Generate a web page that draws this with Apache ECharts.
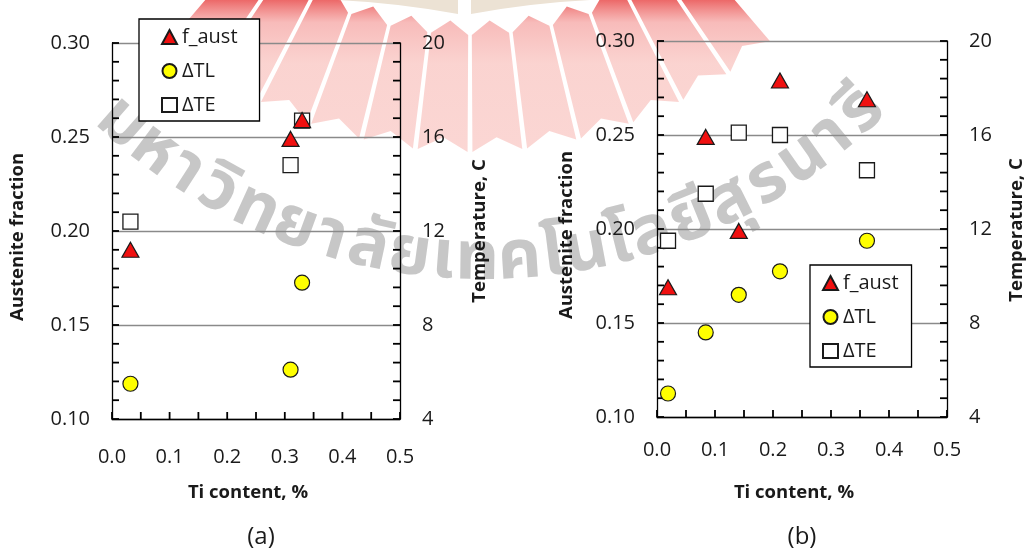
<!DOCTYPE html>
<html>
<head>
<meta charset="utf-8">
<title>Austenite fraction and temperature vs Ti content</title>
<script src="https://cdn.jsdelivr.net/npm/echarts@6/dist/echarts.min.js"></script>
<style>
  html, body { margin: 0; padding: 0; background: #fff; }
  #chart { width: 1027px; height: 550px; }
</style>
</head>
<body>
<div id="chart"></div>
<script>
// ---- data: panel (a) ----
const tiA = [0.032, 0.31, 0.33];
const faustA = [0.190, 0.249, 0.259];
const dTLA = [5.5, 6.1, 9.8];
const dTEA = [12.4, 14.8, 16.7];

// ---- data: panel (b) ----
const tiB = [0.019, 0.084, 0.141, 0.212, 0.362];
const faustB = [0.169, 0.249, 0.199, 0.279, 0.269];
const dTLB = [5.0, 7.6, 9.2, 10.2, 11.5];
const dTEB = [11.5, 13.5, 16.1, 16.0, 14.5];

// ---- labels ----
const seriesNames = ['f_aust', 'ΔTL', 'ΔTE'];
const panelLabels = ['(a)', '(b)'];
const xTitle = 'Ti content, %';
const yLeftTitle = 'Austenite fraction';
const yRightTitle = 'Temperature, C';
const watermarkText = ['ม','ห','า','วิ','ท','ย','า','ลั','ย','เ','ท','ค','โ','น','โ','ล','ยี','สุ','ร','น','า','รี'];

// ---- axis ranges and tick steps ----
const xRange = [0, 0.5], xLabelStep = 0.1, xTickStep = 0.05;
const fRange = [0.1, 0.3], fLabelStep = 0.05, fTickStep = 0.01;
const tRange = [4, 20], tLabelStep = 4, tTickStep = 0.8;

const FONT = '"Open Sans", "Noto Sans", sans-serif';
const INK = '#1a1a1a';

const chart = echarts.init(document.getElementById('chart'), null, { renderer: 'canvas' });

const zip = (xs, ys) => xs.map((x, i) => [x, ys[i]]);
function steps(min, max, step) {
  const out = [];
  const n = Math.round((max - min) / step);
  for (let k = 0; k <= n; k++) out.push(+(min + k * step).toFixed(4));
  return out;
}

// plot rectangles for the two panels
const grids = [
  { left: 112, top: 43, width: 288, height: 376 },
  { left: 657, top: 41, width: 290, height: 376 }
];
const xLabelMargin = [28, 23];

const axisLine = { show: true, lineStyle: { color: '#000', width: 1.3 } };
const labelStyle = { fontSize: 20, fontFamily: FONT, color: INK };

const xAxes = grids.map((g, i) => ({
  type: 'value', gridIndex: i, min: xRange[0], max: xRange[1], interval: xLabelStep,
  axisLine: axisLine,
  axisTick: { show: false },
  splitLine: { show: false },
  axisLabel: Object.assign({ margin: xLabelMargin[i], formatter: v => v.toFixed(1) }, labelStyle)
}));

const yAxes = [];
grids.forEach((g, i) => {
  yAxes.push({
    type: 'value', gridIndex: i, position: 'left', min: fRange[0], max: fRange[1], interval: fLabelStep,
    axisLine: axisLine,
    axisTick: { show: false },
    splitLine: { show: true, lineStyle: { color: '#8a8a8a', width: 1.3 } },
    axisLabel: Object.assign({ margin: 22, formatter: v => v.toFixed(2) }, labelStyle)
  });
  yAxes.push({
    type: 'value', gridIndex: i, position: 'right', min: tRange[0], max: tRange[1], interval: tLabelStep,
    axisLine: axisLine,
    axisTick: { show: false },
    splitLine: { show: false },
    axisLabel: Object.assign({ margin: 22 }, labelStyle)
  });
});

function panelSeries(i, xs, faust, dTL, dTE) {
  return [
    {
      type: 'scatter', name: seriesNames[2], xAxisIndex: i, yAxisIndex: 2 * i + 1,
      data: zip(xs, dTE), symbol: 'rect', symbolSize: 15, z: 3,
      itemStyle: { color: '#ffffff', borderColor: INK, borderWidth: 1.3, opacity: 1 }
    },
    {
      type: 'scatter', name: seriesNames[1], xAxisIndex: i, yAxisIndex: 2 * i + 1,
      data: zip(xs, dTL), symbol: 'circle', symbolSize: 15, z: 4,
      itemStyle: { color: '#ffff00', borderColor: INK, borderWidth: 1.2, opacity: 1 }
    },
    {
      type: 'scatter', name: seriesNames[0], xAxisIndex: i, yAxisIndex: 2 * i,
      data: zip(xs, faust), symbol: 'triangle', symbolSize: [17, 15], z: 5,
      itemStyle: { color: '#f01010', borderColor: INK, borderWidth: 1.2, opacity: 1 }
    }
  ];
}

// short inward tick marks drawn as thin bar symbols on each axis
const TICK_LEN = 7, TICK_W = 1.8, TICK_COLOR = '#000000';
function tickMarks(xIdx, yIdx, pts, size, offset) {
  return {
    type: 'scatter', xAxisIndex: xIdx, yAxisIndex: yIdx, data: pts,
    symbol: 'rect', symbolSize: size, symbolOffset: offset,
    clip: false, silent: true, z: 2,
    itemStyle: { color: TICK_COLOR, opacity: 1 }
  };
}
function panelTicks(i) {
  return [
    tickMarks(i, 2 * i, steps(fRange[0], fRange[1], fTickStep).map(v => [xRange[0], v]), [TICK_LEN, TICK_W], [TICK_LEN / 2, 0]),
    tickMarks(i, 2 * i + 1, steps(tRange[0], tRange[1], tTickStep).map(v => [xRange[1], v]), [TICK_LEN, TICK_W], [-TICK_LEN / 2, 0]),
    tickMarks(i, 2 * i, steps(xRange[0], xRange[1], xTickStep).map(v => [v, fRange[0]]), [TICK_W, TICK_LEN], [0, -TICK_LEN / 2])
  ];
}

const legendBase = {
  orient: 'vertical', itemWidth: 15, itemHeight: 14, itemGap: 14,
  borderColor: '#000', borderWidth: 1.3, backgroundColor: '#fff',
  textStyle: { fontSize: 20, fontFamily: FONT, color: INK, lineHeight: 20 },
  data: seriesNames, selectedMode: false
};

// ---- background watermark: ray fan, crest base and arched lettering ----
function polar(cx, cy, r, degAngle) {
  const a = degAngle * Math.PI / 180;
  return [cx + r * Math.cos(a), cy + r * Math.sin(a)];
}
const wm = [];
const fanC = [470, -310];
const rIn = 345, rOut = 462, notch = 14, halfW = 3.1;
const rayFill = {
  type: 'linear', x: 0, y: 0, x2: 0, y2: 160, global: true,
  colorStops: [
    { offset: 0.0, color: 'rgba(228,40,40,0.7)' },
    { offset: 0.14, color: 'rgba(236,85,82,0.4)' },
    { offset: 0.40, color: 'rgba(240,110,100,0.3)' },
    { offset: 1.0, color: 'rgba(240,110,100,0.28)' }
  ]
};
for (let k = -6; k <= 5; k++) {
  const a = 90 + 3.4 + 6.8 * k;
  const pts = [
    polar(fanC[0], fanC[1], rIn, a - halfW),
    polar(fanC[0], fanC[1], rIn - notch, a),
    polar(fanC[0], fanC[1], rIn, a + halfW),
    polar(fanC[0], fanC[1], rOut, a + halfW),
    polar(fanC[0], fanC[1], rOut - notch, a),
    polar(fanC[0], fanC[1], rOut, a - halfW)
  ];
  wm.push({ type: 'polygon', z: -10, silent: true, shape: { points: pts }, style: { fill: rayFill } });
}
// crest base blocks at the top edge
function capBlock(x0, x1, yLow0, yLow1) {
  const pts = [[x0, 0], [x1, 0]];
  const n = 8;
  for (let j = 0; j <= n; j++) {
    const t = j / n;
    const x = x1 + (x0 - x1) * t;
    const y = yLow1 + (yLow0 - yLow1) * t - 2 * Math.sin(Math.PI * t);
    pts.push([x, y]);
  }
  return { type: 'polygon', z: -9, silent: true, shape: { points: pts }, style: { fill: '#ece2d4' } };
}
wm.push(capBlock(338, 458, 0, 14));
wm.push(capBlock(471, 590, 14, 0));

// arched lettering
const txtC = [485, -290], txtR = 555;
const widths = watermarkText.map(c => (c === 'า' ? 0.8 : (c === 'เ' || c === 'โ') ? 0.6 : 1.0));
const totalW = widths.reduce((s, w) => s + w, 0);
const a0 = 133.5, a1 = 44.6;
let acc = 0;
watermarkText.forEach((c, i) => {
  const mid = (acc + widths[i] / 2) / totalW;
  acc += widths[i];
  const a = a0 + (a1 - a0) * mid;
  const p = polar(txtC[0], txtC[1], txtR, a);
  wm.push({
    type: 'text', z: -8, silent: true,
    x: p[0], y: p[1], rotation: -(a - 90) * Math.PI / 180,
    style: {
      text: c, fill: 'rgba(170,170,170,0.66)',
      font: 'bold 68px "Noto Sans Thai", "Noto Sans", sans-serif',
      align: 'center', verticalAlign: 'middle'
    }
  });
});

// ---- axis titles and panel captions ----
const titles = [];
function addText(x, y, text, opts) {
  titles.push(Object.assign({
    type: 'text', z: 50, silent: true, x: x, y: y,
    style: Object.assign({
      text: text, fill: INK, font: 'bold 18.5px ' + FONT,
      align: 'center', verticalAlign: 'middle'
    }, opts.style || {})
  }, opts.el || {}));
}
const rot = { el: { rotation: Math.PI / 2 } };
addText(18, 237, yLeftTitle, rot);
addText(480, 231, yRightTitle, rot);
addText(567, 235, yLeftTitle, rot);
addText(1017, 230, yRightTitle, rot);
addText(248, 493, xTitle, {});
addText(794, 493, xTitle, {});
addText(261, 537, panelLabels[0], { style: { font: '24px ' + FONT } });
addText(802, 537, panelLabels[1], { style: { font: '24px ' + FONT } });

const option = {
  animation: false,
  backgroundColor: '#ffffff',
  grid: grids,
  xAxis: xAxes,
  yAxis: yAxes,
  legend: [
    Object.assign({}, legendBase, { left: 139, top: 19, padding: [8, 22, 6, 22] }),
    Object.assign({}, legendBase, { left: 810, top: 265, padding: [8, 13, 6, 12] })
  ],
  graphic: wm.concat(titles),
  series: panelSeries(0, tiA, faustA, dTLA, dTEA)
    .concat(panelSeries(1, tiB, faustB, dTLB, dTEB))
    .concat(panelTicks(0), panelTicks(1))
};

chart.setOption(option);
</script>
</body>
</html>
